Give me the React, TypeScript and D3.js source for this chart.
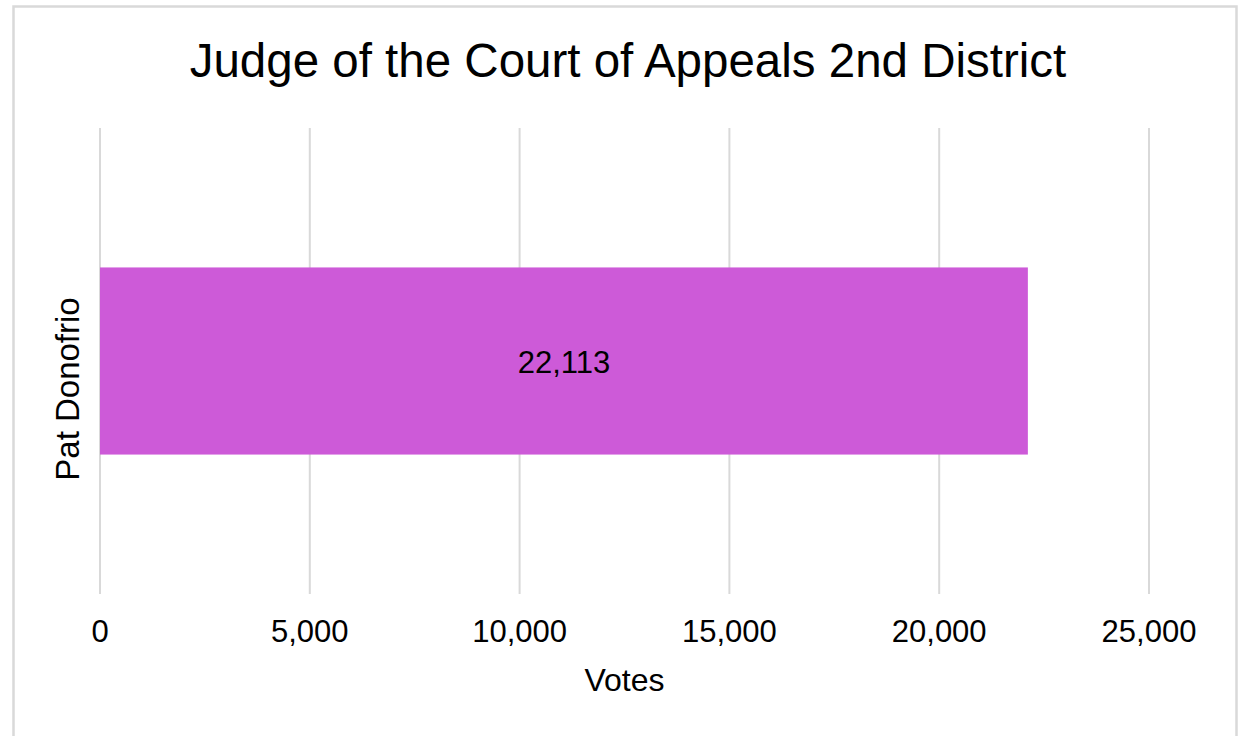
import * as d3 from "d3";
import { useEffect, useRef } from "react";

// data
const candidates = ["Pat Donofrio"];
const votes = [22113];
const xTicks = [0, 5000, 10000, 15000, 20000, 25000];

const chartTitle = "Judge of the Court of Appeals 2nd District";
const xTitle = "Votes";

const W = 1245;
const H = 736;
const FONT = "'Liberation Sans', Arial, sans-serif";

const App = () => {
  const ref = useRef<SVGSVGElement | null>(null);

  useEffect(() => {
    const svg = d3.select(ref.current);
    svg.selectAll("*").remove();

    // отступы области графика
    const margin = { top: 128, bottom: 142, left: 100, right: 96 };
    const boundsWidth = W - margin.left - margin.right;
    const boundsHeight = H - margin.top - margin.bottom;

    svg.append("rect")
      .attr("width", W)
      .attr("height", H)
      .attr("fill", "#ffffff");

    // рамка
    svg.append("rect")
      .attr("x", 13.5)
      .attr("y", 6.5)
      .attr("width", 1223)
      .attr("height", 760)
      .attr("fill", "none")
      .attr("stroke", "#d9d9d9")
      .attr("stroke-width", 2.5);

    const scaleX = d3.scaleLinear().domain([0, 25000]).range([0, boundsWidth]);
    const scaleY = d3.scaleBand()
      .domain(candidates)
      .range([0, boundsHeight])
      .padding(0.427);

    const g = svg.append("g")
      .attr("transform", `translate(${margin.left}, ${margin.top})`);

    // сетка
    g.selectAll(".grid")
      .data(xTicks)
      .enter()
      .append("line")
      .attr("x1", d => scaleX(d))
      .attr("x2", d => scaleX(d))
      .attr("y1", 0)
      .attr("y2", boundsHeight)
      .attr("stroke", "#d9d9d9")
      .attr("stroke-width", 2);

    // подписи оси X
    g.selectAll(".tick-label")
      .data(xTicks)
      .enter()
      .append("text")
      .attr("x", d => scaleX(d))
      .attr("y", boundsHeight + 48)
      .attr("text-anchor", "middle")
      .attr("font-family", FONT)
      .attr("font-size", 31)
      .attr("fill", "#000")
      .text(d => d3.format(",")(d));

    // столбцы
    const data = candidates.map((c, i) => ({ name: c, value: votes[i] }));
    g.selectAll(".bar")
      .data(data)
      .enter()
      .append("rect")
      .attr("x", 0)
      .attr("y", d => scaleY(d.name) as number)
      .attr("width", d => scaleX(d.value))
      .attr("height", scaleY.bandwidth())
      .attr("fill", "#cd5ad8");

    g.selectAll(".bar-label")
      .data(data)
      .enter()
      .append("text")
      .attr("x", d => scaleX(d.value) / 2)
      .attr("y", d => (scaleY(d.name) as number) + scaleY.bandwidth() / 2 + 12)
      .attr("text-anchor", "middle")
      .attr("font-family", FONT)
      .attr("font-size", 31)
      .attr("fill", "#000")
      .text(d => d3.format(",")(d.value));

    // подписи категорий
    g.selectAll(".cat-label")
      .data(data)
      .enter()
      .append("text")
      .attr("transform", d =>
        `translate(-21, ${(scaleY(d.name) as number) + scaleY.bandwidth() / 2 + 28}) rotate(-90)`)
      .attr("text-anchor", "middle")
      .attr("font-family", FONT)
      .attr("font-size", 33)
      .attr("fill", "#000")
      .text(d => d.name);

    // заголовки
    svg.append("text")
      .attr("x", 628)
      .attr("y", 77)
      .attr("text-anchor", "middle")
      .attr("font-family", FONT)
      .attr("font-size", 47.5)
      .attr("fill", "#000")
      .text(chartTitle);

    svg.append("text")
      .attr("x", margin.left + boundsWidth / 2)
      .attr("y", 691)
      .attr("text-anchor", "middle")
      .attr("font-family", FONT)
      .attr("font-size", 32)
      .attr("fill", "#000")
      .text(xTitle);
  }, []);

  return (
    <svg
      ref={ref}
      width={W}
      height={H}
      style={{ position: "absolute", left: 0, top: 0, display: "block" }}
    ></svg>
  );
};

export default App;
